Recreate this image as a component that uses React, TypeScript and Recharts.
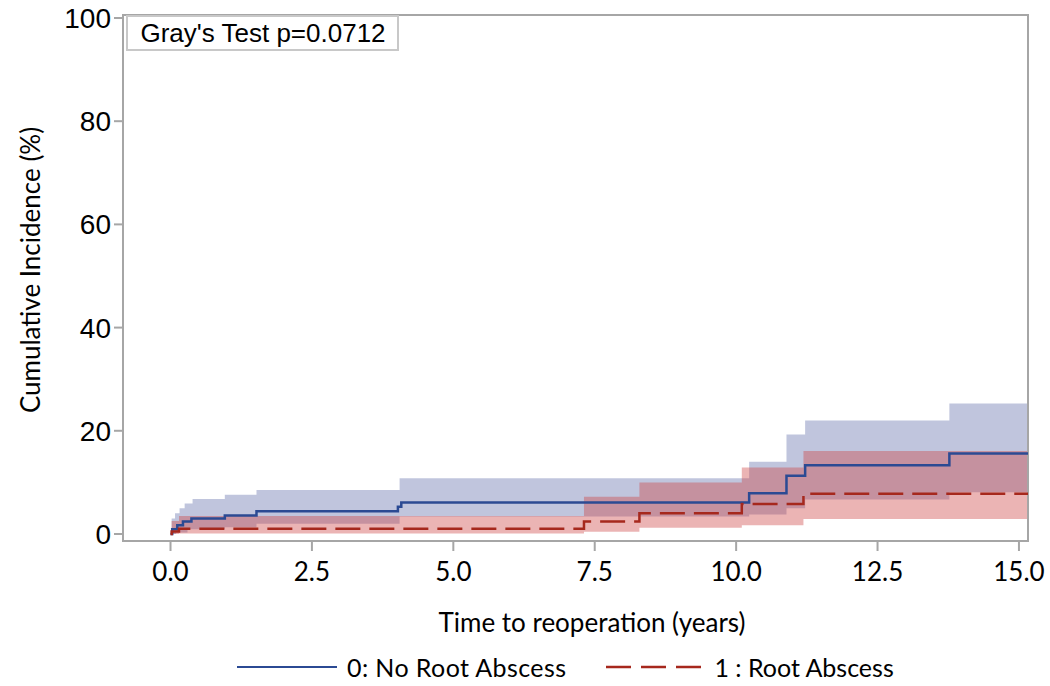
import { Area, ComposedChart, Line, ReferenceArea, XAxis, YAxis } from "recharts";

// cumulative incidence (years, %)
const noAbscessTime = [0, 0.03, 0.12, 0.22, 0.37, 0.96, 1.52, 4.02, 4.08, 10.23, 10.89, 11.22, 13.77];
const noAbscessCif = [0, 0.9, 1.7, 2.4, 3.0, 3.6, 4.4, 5.3, 6.1, 7.9, 11.3, 13.3, 15.6];
const noAbscessUpperTime = [0, 0.02, 0.08, 0.16, 0.25, 0.39, 0.96, 1.52, 4.05, 10.23, 10.89, 11.22, 13.77];
const noAbscessUpper = [0, 3.0, 4.0, 5.0, 5.9, 6.8, 7.6, 8.5, 10.8, 14.0, 19.3, 22.0, 25.3];
const noAbscessLowerTime = [0, 0.1, 0.3, 0.96, 1.52, 4.05, 10.23, 10.89, 11.22, 13.77];
const noAbscessLower = [0, 0.3, 0.9, 1.3, 2.0, 3.4, 3.8, 5.0, 6.7, 8.1];

const abscessTime = [0, 0.02, 0.15, 7.31, 8.29, 10.1, 11.19];
const abscessCif = [0, 0.5, 1.0, 2.4, 4.0, 5.8, 7.8];
const abscessUpper = [0, 2.5, 3.5, 7.2, 10.0, 12.9, 16.1];
const abscessLower = [0, 0, 0.1, 0.45, 1.2, 1.7, 2.9];

const xDomain = [-0.84, 15.16];
const yDomain = [-1.36, 100.58];
const xTicks = [0, 2.5, 5, 7.5, 10, 12.5, 15];
const yTicks = [0, 20, 40, 60, 80, 100];
const pValueText = "Gray's Test p=0.0712";
const seriesNames = ["0: No Root Abscess", "1 : Root Abscess"];

const stepAt = (times: number[], vals: number[], t: number) => {
  let v = vals[0];
  for (let i = 0; i < times.length; i++) if (times[i] <= t) v = vals[i];
  return v;
};

const allTimes = Array.from(
  new Set([...noAbscessTime, ...noAbscessUpperTime, ...noAbscessLowerTime, ...abscessTime, xDomain[1]])
).sort((a, b) => a - b);

const table = allTimes.map((t) => ({
  t,
  noAbscess: stepAt(noAbscessTime, noAbscessCif, t),
  noAbscessBand: [
    stepAt(noAbscessLowerTime, noAbscessLower, t),
    stepAt(noAbscessUpperTime, noAbscessUpper, t),
  ],
  abscess: stepAt(abscessTime, abscessCif, t),
  abscessBand: [stepAt(abscessTime, abscessLower, t), stepAt(abscessTime, abscessUpper, t)],
}));

const BLUE = "#2b4a93";
const RED = "#a6281d";
const FRAME = "#a6a6a6";
const SANS = "Lato, 'Open Sans', sans-serif";
const ARIAL = "'Liberation Sans', Arial, sans-serif";

export default function App() {
  return (
    <div style={{ position: "absolute", left: 0, top: 0, width: 1050, height: 686, background: "#fff" }}>
      <ComposedChart width={1050} height={686} data={table} margin={{ top: 15, right: 22, bottom: 85, left: 0 }}>
        <XAxis
          dataKey="t"
          type="number"
          domain={xDomain}
          ticks={xTicks}
          allowDataOverflow
          tickFormatter={(v: number) => v.toFixed(1)}
          height={60}
          axisLine={{ stroke: FRAME, strokeWidth: 2 }}
          tickLine={{ stroke: FRAME, strokeWidth: 2 }}
          tickSize={10}
          tickMargin={12}
          tick={{ fontSize: 26, fill: "#000", fontFamily: SANS }}
          label={() => (
            <text x={592} y={632} textAnchor="middle" fontSize={26} fontFamily={SANS} fill="#000">
              Time to reoperation (years)
            </text>
          )}
        />
        <YAxis
          type="number"
          domain={yDomain}
          ticks={yTicks}
          allowDataOverflow
          width={123}
          axisLine={{ stroke: FRAME, strokeWidth: 2 }}
          tickLine={{ stroke: FRAME, strokeWidth: 2 }}
          tickSize={9}
          tickMargin={3}
          tick={{ fontSize: 28, fill: "#000", fontFamily: ARIAL }}
          label={() => (
            <g>
              <text
                x={30}
                y={270}
                transform="rotate(-90 30 270)"
                textAnchor="middle"
                dominantBaseline="central"
                fontSize={26}
                fontFamily={SANS}
                fill="#000"
              >
                Cumulative Incidence (%)
              </text>
              <rect x={127} y={16} width={271} height={34} fill="#fff" stroke="#c8c8c8" strokeWidth={2} />
              <text x={263} y={42} textAnchor="middle" fontSize={26} fontFamily={ARIAL} fill="#000">
                {pValueText}
              </text>
            </g>
          )}
        />
        <Area
          dataKey="noAbscessBand"
          type="stepAfter"
          fill="rgb(98,110,170)"
          fillOpacity={0.4}
          stroke="none"
          isAnimationActive={false}
        />
        <Area
          dataKey="abscessBand"
          type="stepAfter"
          fill="rgb(205,68,68)"
          fillOpacity={0.4}
          stroke="none"
          isAnimationActive={false}
        />
        <Line
          dataKey="noAbscess"
          type="stepAfter"
          stroke={BLUE}
          strokeWidth={2.5}
          dot={false}
          isAnimationActive={false}
        />
        <Line
          dataKey="abscess"
          type="stepAfter"
          stroke={RED}
          strokeWidth={2.5}
          strokeDasharray="25 9"
          dot={false}
          isAnimationActive={false}
        />
        <ReferenceArea
          x1={xDomain[0]}
          x2={xDomain[1]}
          y1={yDomain[0]}
          y2={yDomain[1]}
          fill="none"
          fillOpacity={0}
          stroke={FRAME}
          strokeWidth={2}
          ifOverflow="visible"
        />
      </ComposedChart>
      <div
        style={{
          position: "absolute",
          left: 237,
          top: 650,
          height: 34,
          display: "flex",
          alignItems: "center",
          fontFamily: SANS,
          fontSize: 25,
          color: "#000",
          whiteSpace: "nowrap",
        }}
      >
        <svg width={100} height={10}>
          <line x1={0} y1={5} x2={100} y2={5} stroke={BLUE} strokeWidth={2} />
        </svg>
        <span style={{ marginLeft: 10, letterSpacing: 0.4 }}>{seriesNames[0]}</span>
        <svg width={96} height={10} style={{ marginLeft: 40 }}>
          <line x1={0} y1={5} x2={96} y2={5} stroke={RED} strokeWidth={2.5} strokeDasharray="25 10" />
        </svg>
        <span style={{ marginLeft: 12 }}>{seriesNames[1]}</span>
      </div>
    </div>
  );
}
